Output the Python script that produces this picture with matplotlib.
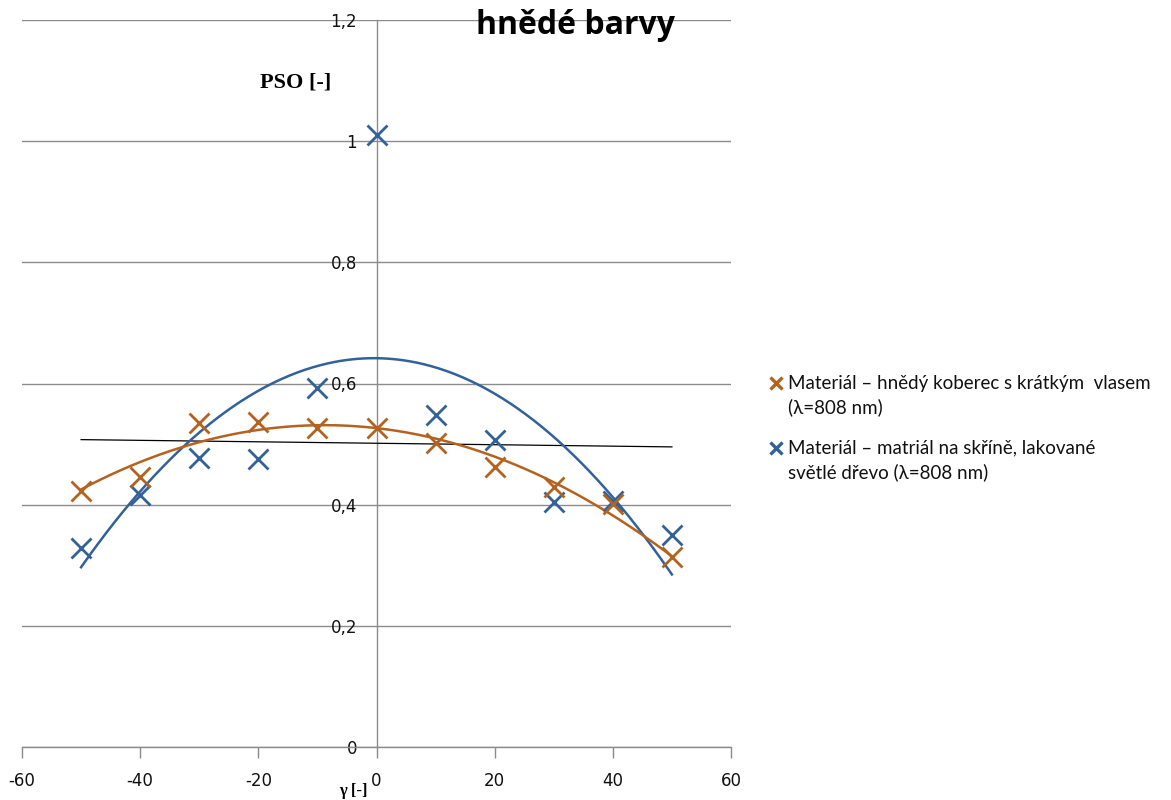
import numpy as np
import matplotlib
matplotlib.use("Agg")
import matplotlib.pyplot as plt
from matplotlib.lines import Line2D
from matplotlib.ticker import FuncFormatter

plt.rcParams["axes.unicode_minus"] = False

# ---- data ----
angles = [-50, -40, -30, -20, -10, 0, 10, 20, 30, 40, 50]
koberec = [0.422, 0.446, 0.535, 0.537, 0.527, 0.527, 0.502, 0.462, 0.429, 0.401, 0.314]
drevo = [0.328, 0.416, 0.477, 0.476, 0.593, 1.010, 0.548, 0.507, 0.404, 0.406, 0.350]
label_koberec = ["Materiál – hnědý koberec s krátkým  vlasem", "(λ=808 nm)"]
label_drevo = ["Materiál – matriál na skříně, lakované", "světlé dřevo (λ=808 nm)"]
x_ticks = [-60, -40, -20, 0, 20, 40, 60]
y_ticks = [0, 0.2, 0.4, 0.6, 0.8, 1.0, 1.2]
title = "hnědé barvy"
y_title = "PSO [-]"
x_title = "γ [-]"

c_orange = "#b5621f"
c_blue = "#33619a"

W, H = 1171, 800
fig = plt.figure(figsize=(W / 100, H / 100), dpi=100)
ax = fig.add_axes([22 / W, 1 - 747 / H, (731 - 22) / W, (747 - 20) / H])

ax.set_xlim(-60, 60)
ax.set_ylim(0, 1.2)

# grid
ax.set_yticks(y_ticks)
ax.set_xticks(x_ticks)
ax.yaxis.grid(True, color="#8c8c8c", linewidth=1.0)
ax.xaxis.grid(False)
ax.set_axisbelow(True)

for s in ["top", "right"]:
    ax.spines[s].set_visible(False)
ax.spines["left"].set_position(("data", 0))
ax.spines["left"].set_color("#8c8c8c")
ax.spines["bottom"].set_color("#8c8c8c")
ax.spines["left"].set_linewidth(1.0)
ax.spines["bottom"].set_linewidth(1.0)

fmt = FuncFormatter(lambda v, p: f"{v:g}".replace(".", ","))
ax.yaxis.set_major_formatter(fmt)
ax.tick_params(axis="y", length=0, pad=14, labelsize=12, labelcolor="#111111")
ax.tick_params(axis="x", direction="out", length=8, width=1.0, color="#8c8c8c",
               pad=10, labelsize=12, labelcolor="#111111")
for t in ax.get_xticklabels() + ax.get_yticklabels():
    t.set_fontfamily("DejaVu Sans")

xa = np.array(angles, dtype=float)
xs = np.linspace(-50, 50, 300)

# trendlines (Excel-like polynomial order 2, and linear)
pk = np.polyfit(xa, koberec, 2)
pd_ = np.polyfit(xa, drevo, 2)
pl = np.polyfit(xa, drevo, 1)
ax.plot(xs, np.polyval(pl, xs), color="black", linewidth=0.9, zorder=3)
ax.plot(xs, np.polyval(pd_, xs), color=c_blue, linewidth=1.8, zorder=3)
ax.plot(xs, np.polyval(pk, xs), color=c_orange, linewidth=1.8, zorder=4)

ax.plot(angles, drevo, linestyle="none", marker="x", markersize=14, mew=2.0,
        color=c_blue, zorder=5)
ax.plot(angles, koberec, linestyle="none", marker="x", markersize=14, mew=2.0,
        color=c_orange, zorder=5)

# titles
fig.text(575 / W, 1 - 25 / H, title, ha="center", va="center", fontsize=23,
         fontweight="bold", family="Open Sans")
fig.text(296 / W, 1 - 83 / H, y_title, ha="center", va="center", fontsize=16,
         fontweight="bold", family="Liberation Serif")
fig.text(353 / W, 1 - 799 / H, x_title, ha="center", va="bottom", fontsize=12,
         fontweight="bold", family="Liberation Serif")

# legend (manual)
def leg_entry(y_px, color, lines):
    fig.add_artist(Line2D([776 / W], [1 - y_px / H], marker="x", markersize=8,
                          mew=2.4, color=color, linestyle="none",
                          transform=fig.transFigure))
    fig.text(788 / W, 1 - y_px / H, lines[0], ha="left", va="center",
             fontsize=13.5, family="Lato", color="#111111")
    fig.text(788 / W, 1 - (y_px + 24) / H, lines[1], ha="left", va="center",
             fontsize=13.5, family="Lato", color="#111111")

leg_entry(383, c_orange, label_koberec)
leg_entry(448, c_blue, label_drevo)

fig.savefig("out.png", dpi=100)
